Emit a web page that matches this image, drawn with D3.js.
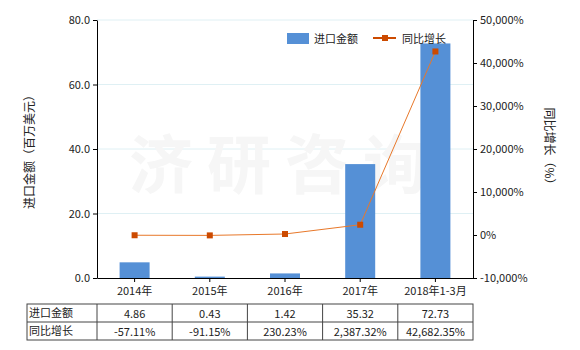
<!DOCTYPE html>
<html>
<head>
<meta charset="utf-8">
<script src="https://cdn.jsdelivr.net/npm/d3@7"></script>
<style>
  body { margin: 0; background: #fff; }
  text { font-family: "Microsoft YaHei", "Noto Sans CJK SC", sans-serif; }
</style>
</head>
<body>
<script>
const categories = ['2014年', '2015年', '2016年', '2017年', '2018年1-3月'];
const importValues = [4.86, 0.43, 1.42, 35.32, 72.73];
const growthValues = [-57.11, -91.15, 230.23, 2387.32, 42682.35];
const leftTicks = [0, 20, 40, 60, 80];
const rightTicks = [-10000, 0, 10000, 20000, 30000, 40000, 50000];

const W = 580, H = 350;
const pLeft = 97, pRight = 473, pTop = 20, pBottom = 278;

// plain hyphen for negatives, like the original
const loc = d3.formatLocale({ decimal: '.', thousands: ',', grouping: [3], currency: ['', ''], minus: '-' });

const svg = d3.select('body').append('svg')
  .attr('width', W).attr('height', H);

const x = d3.scaleBand().domain(categories).range([pLeft, pRight]);
const yL = d3.scaleLinear().domain([0, 80]).range([pBottom, pTop]);
const yR = d3.scaleLinear().domain([-10000, 50000]).range([pBottom, pTop]);

// grid
svg.append('g').selectAll('line')
  .data(leftTicks.slice(1))
  .join('line')
  .attr('x1', pLeft).attr('x2', pRight)
  .attr('y1', d => yL(d)).attr('y2', d => yL(d))
  .attr('stroke', '#dff0f4').attr('stroke-width', 1);

// watermark
svg.append('text')
  .attr('x', 285).attr('y', 188)
  .attr('text-anchor', 'middle')
  .attr('font-size', 64).attr('font-weight', 'bold')
  .attr('fill', '#f6f6f6')
  .attr('letter-spacing', 14)
  .text('济研咨询');

// bars
const bw = 30;
svg.append('g').selectAll('rect')
  .data(importValues)
  .join('rect')
  .attr('x', (d, i) => x(categories[i]) + x.bandwidth() / 2 - bw / 2)
  .attr('width', bw)
  .attr('y', d => yL(d))
  .attr('height', d => pBottom - yL(d))
  .attr('fill', '#5590d6');

// line
const line = d3.line()
  .x((d, i) => x(categories[i]) + x.bandwidth() / 2)
  .y(d => yR(d));
svg.append('path')
  .datum(growthValues)
  .attr('d', line)
  .attr('fill', 'none')
  .attr('stroke', '#e8782a')
  .attr('stroke-width', 1);
svg.append('g').selectAll('rect')
  .data(growthValues)
  .join('rect')
  .attr('x', (d, i) => x(categories[i]) + x.bandwidth() / 2 - 3)
  .attr('y', d => yR(d) - 3)
  .attr('width', 6).attr('height', 6)
  .attr('fill', '#cc4a00');

// axes
const axL = svg.append('g')
  .attr('transform', `translate(${pLeft},0)`)
  .call(d3.axisLeft(yL).tickValues(leftTicks).tickFormat(loc.format('.1f')).tickSize(4).tickSizeOuter(0));
const axR = svg.append('g')
  .attr('transform', `translate(${pRight},0)`)
  .call(d3.axisRight(yR).tickValues(rightTicks).tickFormat(d => loc.format(',')(d) + '%').tickSize(4).tickSizeOuter(0));
const axB = svg.append('g')
  .attr('transform', `translate(0,${pBottom})`)
  .call(d3.axisBottom(x).tickSize(4).tickSizeOuter(0));
[axL, axR, axB].forEach(a => {
  a.select('.domain').attr('stroke', '#000');
  a.selectAll('.tick line').attr('stroke', '#000');
  a.selectAll('text').attr('font-size', 11).attr('fill', '#222')
    .style('font-family', '"Microsoft YaHei", "Noto Sans CJK SC", sans-serif');
});
axB.selectAll('text').attr('dy', '0.9em');

// axis titles
svg.append('text')
  .attr('transform', `translate(34,${(pTop + pBottom) / 2}) rotate(-90)`)
  .attr('text-anchor', 'middle')
  .attr('font-size', 12).attr('fill', '#222')
  .text('进口金额（百万美元）');
svg.append('text')
  .attr('transform', `translate(545,${(pTop + pBottom) / 2}) rotate(90)`)
  .attr('text-anchor', 'middle')
  .attr('font-size', 12).attr('fill', '#222')
  .text('同比增长（%）');

// legend
const lg = svg.append('g');
lg.append('rect').attr('x', 287).attr('y', 33).attr('width', 22).attr('height', 11).attr('fill', '#5590d6');
lg.append('text').attr('x', 314).attr('y', 43).attr('font-size', 11).attr('fill', '#222').text('进口金额');
lg.append('line').attr('x1', 373).attr('x2', 396).attr('y1', 38).attr('y2', 38)
  .attr('stroke', '#cc4a00').attr('stroke-width', 2);
lg.append('rect').attr('x', 382).attr('y', 35).attr('width', 6).attr('height', 6).attr('fill', '#cc4a00');
lg.append('text').attr('x', 402).attr('y', 43).attr('font-size', 11).attr('fill', '#222').text('同比增长');

// table
const tTop = 304, rowH = 18, tLeft = 27;
const rows = [
  { name: '进口金额', vals: importValues.map(d => loc.format('.2f')(d)) },
  { name: '同比增长', vals: growthValues.map(d => loc.format(',.2f')(d) + '%') }
];
const tg = svg.append('g');
tg.append('rect')
  .attr('x', tLeft).attr('y', tTop)
  .attr('width', pRight - tLeft).attr('height', rowH * 2)
  .attr('fill', 'none').attr('stroke', '#444');
tg.append('line').attr('x1', tLeft).attr('x2', pRight)
  .attr('y1', tTop + rowH).attr('y2', tTop + rowH).attr('stroke', '#444');
tg.selectAll('line.col')
  .data(categories)
  .join('line').attr('class', 'col')
  .attr('x1', d => x(d)).attr('x2', d => x(d))
  .attr('y1', tTop).attr('y2', tTop + rowH * 2)
  .attr('stroke', '#444');
rows.forEach((r, ri) => {
  tg.append('text')
    .attr('x', tLeft + 2).attr('y', tTop + ri * rowH + 13)
    .attr('font-size', 11).attr('fill', '#222').text(r.name);
  tg.selectAll(null)
    .data(r.vals)
    .join('text')
    .attr('x', (d, i) => x(categories[i]) + x.bandwidth() / 2)
    .attr('y', tTop + ri * rowH + 14)
    .attr('text-anchor', 'middle')
    .attr('font-size', 11).attr('fill', '#222')
    .text(d => d);
});
</script>
</body>
</html>
